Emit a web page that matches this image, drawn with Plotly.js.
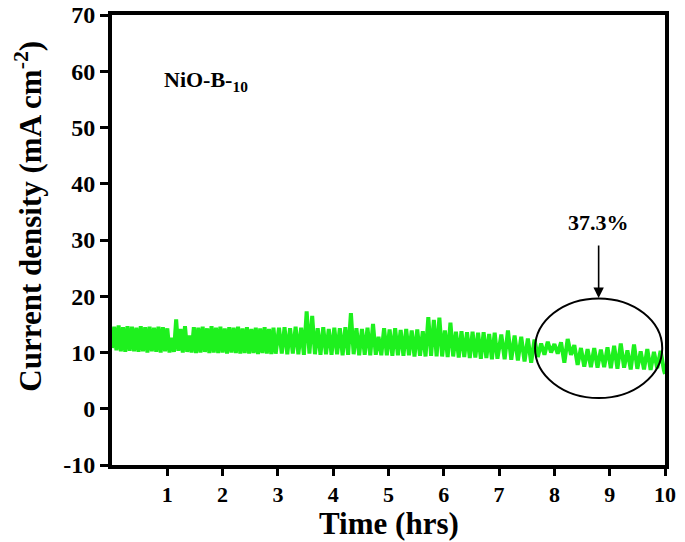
<!DOCTYPE html>
<html>
<head>
<meta charset="utf-8">
<script src="https://cdn.plot.ly/plotly-3.0.1.min.js"></script>
<style>html,body{margin:0;padding:0;background:#fff;}</style>
</head>
<body>
<div id="chart" style="width:685px;height:542px;"></div>
<script>
// Start point
const startTime = [0.00];
const startCurrent = [10.8];

// Segment A: 0-3 h (peak, trough alternating)
const segATime = [0.04,0.08,0.12,0.16,0.20,0.24,0.28,0.32,0.36,0.40,0.44,0.48,0.52,0.56,0.60,0.64,0.68,0.72,0.76,0.80,0.84,0.88,0.92,0.96,1.00,1.04,1.08,1.12,1.16,1.20,1.24,1.28,1.32,1.36,1.40,1.44,1.48,1.52,1.56,1.60,1.64,1.68,1.72,1.76,1.80,1.84,1.88,1.92,1.96,2.00,2.04,2.08,2.12,2.16,2.20,2.24,2.28,2.32,2.36,2.40,2.44,2.48,2.52,2.56,2.60,2.64,2.68,2.72,2.76,2.80,2.84,2.88,2.92,2.96];
const segACurrent = [14.6,10.4,14.8,10.2,14.5,10.1,14.7,10.3,14.6,10.2,14.4,10.1,14.7,10.2,14.5,10.0,14.6,10.2,14.4,10.1,14.6,10.0,14.5,10.2,14.3,10.0,12.6,10.1,15.9,10.3,14.2,10.0,14.7,10.1,13.0,10.0,14.5,9.9,14.4,10.0,14.6,10.1,14.3,9.9,14.7,10.0,14.4,9.9,14.6,10.0,14.3,9.8,14.5,10.0,14.4,9.9,14.6,9.8,14.3,9.9,14.5,9.8,14.2,9.9,14.4,9.7,14.3,9.9,14.5,9.8,14.2,9.7,14.4,9.8];

// Segment B: 3-7 h
const segBTime = [3.02,3.07,3.12,3.17,3.22,3.27,3.32,3.37,3.42,3.47,3.52,3.57,3.62,3.67,3.72,3.77,3.82,3.87,3.92,3.97,4.02,4.07,4.12,4.17,4.22,4.27,4.32,4.37,4.42,4.47,4.52,4.57,4.62,4.67,4.72,4.77,4.82,4.87,4.92,4.97,5.02,5.07,5.12,5.17,5.22,5.27,5.32,5.37,5.42,5.47,5.52,5.57,5.62,5.67,5.72,5.77,5.82,5.87,5.92,5.97,6.02,6.07,6.12,6.17,6.22,6.27,6.32,6.37,6.42,6.47,6.52,6.57,6.62,6.67,6.72,6.77,6.82,6.87,6.92,6.97];
const segBCurrent = [14.4,9.8,14.5,9.7,14.3,9.8,14.6,9.7,14.4,9.6,17.3,9.8,16.5,9.7,14.3,9.6,14.5,9.7,14.2,9.6,14.4,9.7,14.3,9.5,14.5,9.6,17.0,9.7,14.3,9.5,14.2,9.6,14.4,9.5,15.1,9.6,12.8,9.5,14.3,9.5,14.1,9.4,14.3,9.5,14.0,9.4,14.2,9.5,13.9,9.3,14.1,9.4,13.8,9.3,16.3,9.4,15.8,9.3,16.2,9.3,13.9,9.2,15.3,9.3,13.7,9.1,13.8,9.2,13.6,9.0,13.7,9.1,13.5,8.9,13.6,9.0,13.3,8.8,13.5,8.9];

// Segment C: 7-10 h
const segCTime = [7.04,7.10,7.16,7.22,7.28,7.34,7.40,7.46,7.52,7.58,7.64,7.70,7.76,7.82,7.88,7.94,8.00,8.06,8.12,8.18,8.24,8.30,8.36,8.42,8.48,8.54,8.60,8.66,8.72,8.78,8.84,8.90,8.96,9.02,9.08,9.14,9.20,9.26,9.32,9.38,9.44,9.50,9.56,9.62,9.68,9.74,9.80,9.86,9.92,9.98,10.00];
const segCCurrent = [13.2,8.8,13.9,8.7,13.0,8.6,12.8,8.4,12.5,8.2,12.3,9.2,11.6,9.6,11.9,10.0,11.5,9.8,11.8,8.2,12.4,9.6,11.3,7.8,10.8,7.5,10.6,7.4,10.8,7.3,10.5,7.4,10.9,7.2,11.2,7.1,11.6,7.3,10.4,7.0,11.4,7.1,10.2,7.0,10.6,6.9,10.1,7.2,10.3,6.9,6.2];

const xTickVals = [1,2,3,4,5,6,7,8,9,10];
const xTickText = ['1','2','3','4','5','6','7','8','9','10'];
const yTickVals = [-10,0,10,20,30,40,50,60,70];
const yTickText = ['-10','0','10','20','30','40','50','60','70'];

const timeHrs = startTime.concat(segATime, segBTime, segCTime);
const currentDensity = startCurrent.concat(segACurrent, segBCurrent, segCCurrent);

const serif = 'Liberation Serif, Times New Roman, serif';

const trace = {
  x: timeHrs,
  y: currentDensity,
  type: 'scatter',
  mode: 'lines',
  line: {color: '#1ef01e', width: 4},
  hoverinfo: 'skip'
};

const layout = {
  width: 685,
  height: 542,
  margin: {l: 112, r: 20, t: 15, b: 77},
  paper_bgcolor: '#ffffff',
  plot_bgcolor: '#ffffff',
  showlegend: false,
  xaxis: {
    range: [0, 10],
    tickvals: xTickVals,
    ticktext: xTickText,
    ticks: 'outside',
    ticklen: 7,
    tickwidth: 3,
    tickcolor: '#000',
    showline: true,
    linewidth: 4,
    linecolor: '#000',
    mirror: true,
    showgrid: false,
    zeroline: false,
    tickfont: {family: serif, size: 22, color: '#000', weight: 'bold'}
  },
  yaxis: {
    range: [-10, 70],
    tickvals: yTickVals,
    ticktext: yTickText,
    ticks: 'outside',
    ticklen: 8,
    tickwidth: 3,
    tickcolor: '#000',
    showline: true,
    linewidth: 4,
    linecolor: '#000',
    mirror: true,
    showgrid: false,
    zeroline: false,
    tickfont: {family: serif, size: 24, color: '#000', weight: 'bold'}
  },
  shapes: [
    {type: 'circle', xref: 'x', yref: 'y', x0: 7.65, x1: 9.95, y0: 1.9, y1: 19.6,
     line: {color: '#000', width: 2}}
  ],
  annotations: [
    {x: -0.150, y: 0.552, xref: 'paper', yref: 'paper', xanchor: 'center', yanchor: 'middle',
     textangle: -90,
     text: 'Current density (mA cm<sup>-2</sup>)', showarrow: false,
     font: {family: serif, size: 31, color: '#000', weight: 'bold'}},
    {x: 0.5, y: -0.130, xref: 'paper', yref: 'paper', xanchor: 'center', yanchor: 'middle',
     text: 'Time (hrs)', showarrow: false,
     font: {family: serif, size: 31, color: '#000', weight: 'bold'}},
    {x: 1.7, y: 58.3, xref: 'x', yref: 'y', text: 'NiO-B-<sub>10</sub>', showarrow: false,
     font: {family: serif, size: 22, color: '#000', weight: 'bold'}},
    {x: 8.8, y: 33.2, xref: 'x', yref: 'y', text: '37.3%', showarrow: false,
     font: {family: serif, size: 22, color: '#000', weight: 'bold'}},
    {x: 8.8, y: 19.7, xref: 'x', yref: 'y', ax: 8.8, ay: 29.3, axref: 'x', ayref: 'y',
     text: '', showarrow: true, arrowhead: 2, arrowsize: 1.3, arrowwidth: 1.6, arrowcolor: '#000'}
  ]
};

Plotly.newPlot('chart', [trace], layout, {staticPlot: true, displayModeBar: false});
</script>
</body>
</html>
